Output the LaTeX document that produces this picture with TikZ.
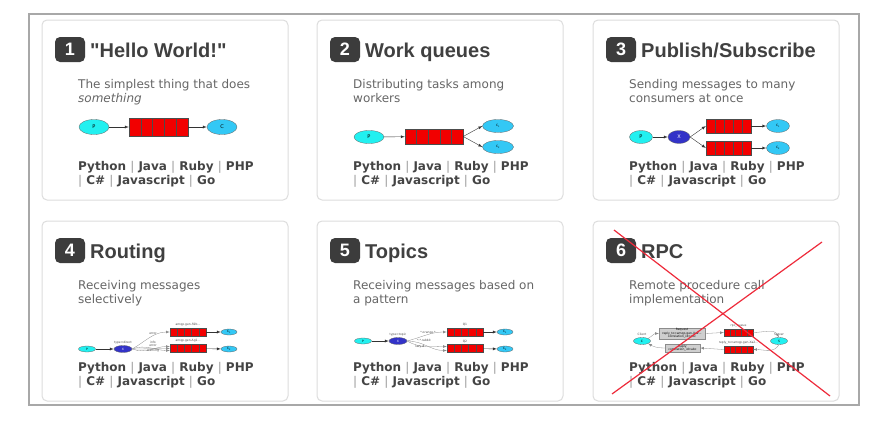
\documentclass[tikz,border=0pt]{standalone}
\usepackage{fontspec}
\setmainfont{DejaVu Sans}
\newfontfamily\headfont{Liberation Sans}
\usepackage{xcolor}
\usetikzlibrary{calc,arrows,positioning,shapes.geometric}

\definecolor{cardline}{HTML}{DDDDDD}
\definecolor{framegray}{HTML}{A8A8A8}
\definecolor{badgegray}{HTML}{3C3C3C}
\definecolor{titlegray}{HTML}{404040}
\definecolor{descgray}{HTML}{666666}
\definecolor{langgray}{HTML}{444444}
\definecolor{bargray}{HTML}{9A9A9A}
\definecolor{prodcyan}{HTML}{22F0F0}
\definecolor{conscyan}{HTML}{33C8F5}
\definecolor{exchblue}{HTML}{3333C8}
\definecolor{queuered}{HTML}{F20000}
\definecolor{boxgray}{HTML}{CFCFCF}
\definecolor{crossred}{HTML}{EE2B3B}

\newcommand\tinytxt{\fontsize{3}{3.4}\selectfont}
\newcommand\smalltxt{\fontsize{5}{5}\selectfont}
\newcommand\lsep{\textcolor{bargray}{\mdseries|}}

% one card: x, y, number, title, first and second line
\newcommand\drawcard[6]{%
  \draw[card] (#1,#2) rectangle ++(246,180);
  \node[badge] (badge#3) at (#1+28,#2+29.5) {#3};
  \node[cardtitle] (title#3) at (#1+48,#2+37) {#4};
  \node[desc] (desca#3) at (#1+36,#2+68) {#5};
  \node[desc] (descb#3) at (#1+36,#2+82) {#6};
  \node[langs] (langa#3) at (#1+36,#2+150) {Python {\lsep} Java {\lsep} Ruby {\lsep} PHP};
  \node[langs] (langb#3) at (#1+36,#2+164) {{\lsep} C\# {\lsep} Javascript {\lsep} Go};
}

\begin{document}
\begin{tikzpicture}[x=1pt,y=-1pt,
  card/.style={draw=cardline,line width=1pt,rounded corners=5pt,fill=white},
  badge/.style={fill=badgegray,rounded corners=5pt,minimum width=30pt,minimum height=25pt,inner sep=0,text=white,font=\headfont\bfseries\fontsize{18}{18}\selectfont},
  cardtitle/.style={anchor=base west,inner sep=0,text=titlegray,font=\headfont\bfseries\fontsize{20}{20}\selectfont},
  desc/.style={anchor=base west,inner sep=0,text=descgray,font=\fontsize{12}{14}\selectfont},
  langs/.style={anchor=base west,inner sep=0,text=langgray,font=\bfseries\fontsize{12}{14}\selectfont},
  blob/.style={ellipse,draw=black!60,line width=0.3pt,inner sep=0},
  prod/.style={blob,fill=prodcyan},
  cons/.style={blob,fill=conscyan},
  exch/.style={blob,fill=exchblue,text=white},
  queue/.style={draw=black!70,fill=queuered,line width=0.4pt,inner sep=0,
    path picture={\foreach \k in {1,...,4}{\draw[black!70,line width=0.4pt]
      ($(path picture bounding box.north west)!\k/5!(path picture bounding box.north east)$) --
      ($(path picture bounding box.south west)!\k/5!(path picture bounding box.south east)$);}}},
  msgbox/.style={draw=black!45,fill=boxgray,line width=0.3pt,inner sep=0.5pt,align=center,font=\tinytxt},
  flow/.style={-latex,line width=0.4pt,black!80},
  route/.style={-latex,line width=0.3pt,black!45},
  tag/.style={inner sep=0,font=\tinytxt,text=black!70},
]
\useasboundingbox (0,0) rectangle (876,423);
\fill[white] (0,0) rectangle (876,423);
\draw[framegray,line width=1.2pt] (29,14) rectangle (859,405);

%% cards
\drawcard{42}{20}{1}{"Hello World!"}{The simplest thing that does}{\itshape something}
\drawcard{317}{20}{2}{Work queues}{Distributing tasks among}{workers}
\drawcard{593}{20}{3}{Publish/Subscribe}{Sending messages to many}{consumers at once}
\drawcard{42}{221}{4}{Routing}{Receiving messages}{selectively}
\drawcard{317}{221}{5}{Topics}{Receiving messages based on}{a pattern}
\drawcard{593}{221}{6}{RPC}{Remote procedure call}{implementation}

%% 1 hello world
\node[prod,minimum width=30pt,minimum height=15pt] (p1) at (94,127) {\smalltxt P};
\node[queue,minimum width=59pt,minimum height=18pt] (q1) at (158.5,127) {};
\node[cons,minimum width=30pt,minimum height=15pt] (c1) at (222,127) {\smalltxt C};
\draw[flow] (p1) -- (q1);
\draw[flow] (q1) -- (c1);

%% 2 work queues
\node[prod,minimum width=30pt,minimum height=13pt] (p2) at (369,137) {\smalltxt P};
\node[queue,minimum width=58pt,minimum height=15pt] (q2) at (434,136.5) {};
\node[cons,minimum width=31pt,minimum height=13pt] (c2a) at (498,126) {\tinytxt C\textsubscript{1}};
\node[cons,minimum width=31pt,minimum height=13pt] (c2b) at (498,147) {\tinytxt C\textsubscript{2}};
\draw[flow] (p2) -- (q2);
\draw[flow] (q2.east) -- (c2a.west);
\draw[flow] (q2.east) -- (c2b.west);

%% 3 publish/subscribe
\node[prod,minimum width=23pt,minimum height=13pt] (p3) at (641,137) {\smalltxt P};
\node[exch,minimum width=22pt,minimum height=13pt] (x3) at (679,137) {\smalltxt X};
\node[queue,minimum width=45pt,minimum height=14pt] (q3a) at (728.5,126) {};
\node[queue,minimum width=45pt,minimum height=14pt] (q3b) at (728.5,148) {};
\node[cons,minimum width=23pt,minimum height=13pt] (c3a) at (778,126) {\tinytxt C\textsubscript{1}};
\node[cons,minimum width=23pt,minimum height=13pt] (c3b) at (778,148) {\tinytxt C\textsubscript{2}};
\draw[flow] (p3) -- (x3);
\draw[flow] (x3.east) -- (q3a.west);
\draw[flow] (x3.east) -- (q3b.west);
\draw[flow] (q3a) -- (c3a);
\draw[flow] (q3b) -- (c3b);

%% 4 routing
\node[prod,minimum width=17pt,minimum height=6pt] (p4) at (87,349) {\tinytxt P};
\node[exch,minimum width=18pt,minimum height=7pt] (x4) at (123,349) {\tinytxt X};
\node[queue,minimum width=36pt,minimum height=8pt] (q4a) at (188,332) {};
\node[queue,minimum width=36pt,minimum height=8pt] (q4b) at (188,348.5) {};
\node[cons,minimum width=16pt,minimum height=6pt] (c4a) at (229,332) {\tinytxt C\textsubscript{1}};
\node[cons,minimum width=16pt,minimum height=6pt] (c4b) at (229,349) {\tinytxt C\textsubscript{2}};
\node[tag,above=1.5pt of q4a] (n4a) {amqp.gen-S9b...};
\node[tag,above=1.5pt of q4b] (n4b) {amqp.gen-Ag1...};
\node[tag,above=1.2pt of x4] (t4) {type=direct};
\draw[flow] (p4) -- (x4);
\draw[route] (x4.east) to[out=30,in=180] (q4a.west);
\draw[route] (x4.east) to[out=20,in=180] ([yshift=-2pt]q4b.west);
\draw[route] (x4.east) to[out=0,in=180] (q4b.west);
\draw[route] (x4.east) to[out=-20,in=180] ([yshift=2pt]q4b.west);
\node[tag] (e4a) at (153,333.5) {error};
\node[tag] (e4b) at (153,342) {info};
\node[tag] (e4c) at (153,346) {error};
\node[tag] (e4d) at (153,351) {warning};
\draw[flow] (q4a) -- (c4a);
\draw[flow] (q4b) -- (c4b);

%% 5 topics
\node[prod,minimum width=17pt,minimum height=6pt] (p5) at (363,341) {\tinytxt P};
\node[exch,minimum width=18pt,minimum height=7pt] (x5) at (398,341) {\tinytxt X};
\node[queue,minimum width=36pt,minimum height=8pt] (q5a) at (465,332) {};
\node[queue,minimum width=36pt,minimum height=8pt] (q5b) at (465,348.5) {};
\node[cons,minimum width=16pt,minimum height=6pt] (c5a) at (505,332) {\tinytxt C\textsubscript{1}};
\node[cons,minimum width=16pt,minimum height=6pt] (c5b) at (505,349) {\tinytxt C\textsubscript{2}};
\node[tag,above=1.5pt of q5a] (n5a) {Q1};
\node[tag,above=1.5pt of q5b] (n5b) {Q2};
\node[tag,above=1.2pt of x5] (t5) {type=topic};
\draw[flow] (p5) -- (x5);
\draw[route] (x5.east) to[out=15,in=180] (q5a.west);
\draw[route] (x5.east) to[out=0,in=180] ([yshift=-2pt]q5b.west);
\draw[route] (x5.east) to[out=-30,in=180] ([yshift=2pt]q5b.west);
\node[tag] (k5a) at (428,333) {*.orange.*};
\node[tag] (k5b) at (424,340) {*.*.rabbit};
\node[tag] (k5c) at (420,347) {lazy.\#};
\draw[flow] (q5a) -- (c5a);
\draw[flow] (q5b) -- (c5b);

%% 6 rpc
\node[prod,minimum width=17pt,minimum height=7pt] (cl6) at (642,341) {\tinytxt C};
\node[prod,minimum width=17pt,minimum height=7pt] (sv6) at (779,341) {\tinytxt S};
\node[tag,above=1.5pt of cl6] (l6a) {Client};
\node[tag,above=1.5pt of sv6] (l6b) {Server};
\node[msgbox,minimum width=46pt,minimum height=9pt] (rq6) at (682,333.5) {Request\\reply\_to=amqp.gen-Xa2...\\correlation\_id=abc};
\node[msgbox,minimum width=35pt,minimum height=8pt] (rp6) at (682.5,348) {Reply\\correlation\_id=abc};
\node[queue,minimum width=29pt,minimum height=7pt] (q6a) at (738.5,332.5) {};
\node[queue,minimum width=29pt,minimum height=7pt] (q6b) at (738.5,349.5) {};
\node[tag,above=1.5pt of q6a] (n6a) {rpc\_queue};
\node[tag,above=1.5pt of q6b] (n6b) {reply\_to=amqp.gen-Xa2...};
\draw[route] (cl6.north east) to[out=30,in=180] (rq6.west);
\draw[route] (rq6.east) -- (q6a.west);
\draw[route] (q6a.east) to[out=0,in=120] (sv6.north);
\draw[route] (sv6.south) to[out=-120,in=0] (q6b.east);
\draw[route] (q6b.west) -- (rp6.east);
\draw[route] (rp6.west) to[out=180,in=-30] (cl6.south east);

%% crossed out
\draw[crossred,line width=1.2pt] (614,230) -- (830,396);
\draw[crossred,line width=1.2pt] (822,242) -- (612,394);
\end{tikzpicture}
\end{document}
